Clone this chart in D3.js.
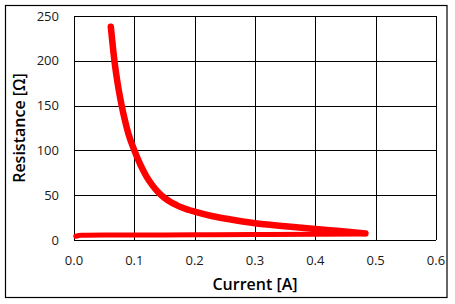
<!DOCTYPE html>
<html>
<head>
<meta charset="utf-8">
<script src="https://cdn.jsdelivr.net/npm/d3@7"></script>
<style>
  html, body { margin: 0; padding: 0; background: #fff; }
  svg { display: block; }
</style>
</head>
<body>
<div id="chart"></div>
<script>
// values
const upperCurrent = [0.061, 0.063, 0.065, 0.067, 0.070, 0.074, 0.079, 0.085, 0.090, 0.1, 0.11, 0.12, 0.13, 0.14, 0.15, 0.16, 0.17, 0.18, 0.2, 0.23, 0.26, 0.3, 0.35, 0.4, 0.44, 0.483]
const upperResistance = [238, 225, 212, 200, 185, 168, 150, 132, 119, 100, 84, 71, 61, 53, 47, 42.5, 39, 36, 31.6, 26.5, 22.8, 18.6, 15.3, 12.3, 10, 7.4]
const lowerCurrent = [0.003, 0.012, 0.05, 0.1, 0.2, 0.3, 0.4, 0.48]
const lowerResistance = [4.2, 5.4, 5.5, 5.6, 5.8, 6.0, 6.3, 6.8]
const xTicks = [0, 0.1, 0.2, 0.3, 0.4, 0.5, 0.6]
const yTicks = [0, 50, 100, 150, 200, 250]

const width = 455
const height = 304
const margin = { top: 16, right: 19, bottom: 64, left: 74 }

const svg = d3.select('#chart').append('svg')
  .attr('width', width)
  .attr('height', height)

// outer chart frame
svg.append('rect')
  .attr('x', 5.5).attr('y', 5.5)
  .attr('width', 441.5).attr('height', 292)
  .attr('fill', 'none')
  .attr('stroke', '#000')
  .attr('stroke-width', 1.2)

const x = d3.scaleLinear().domain([0, 0.6]).range([margin.left, width - margin.right])
const y = d3.scaleLinear().domain([0, 250]).range([height - margin.bottom, margin.top])

const grid = svg.append('g').attr('stroke', '#000').attr('stroke-width', 1)
grid.selectAll('.vx').data(xTicks).join('line')
  .attr('x1', d => Math.round(x(d)) + 0.5).attr('x2', d => Math.round(x(d)) + 0.5)
  .attr('y1', y(250)).attr('y2', y(0))
grid.selectAll('.hy').data(yTicks).join('line')
  .attr('y1', d => Math.round(y(d)) + 0.5).attr('y2', d => Math.round(y(d)) + 0.5)
  .attr('x1', x(0)).attr('x2', x(0.6))

const tickFont = '"Open Sans", sans-serif'

svg.append('g')
  .selectAll('text').data(yTicks).join('text')
  .attr('x', x(0) - 15)
  .attr('y', d => y(d))
  .attr('dy', '0.35em')
  .attr('text-anchor', 'end')
  .style('font', '13px ' + tickFont)
  .attr('fill', '#1a1a1a')
  .text(d => d)

svg.append('g')
  .selectAll('text').data(xTicks).join('text')
  .attr('x', d => x(d))
  .attr('y', y(0) + 25)
  .attr('text-anchor', 'middle')
  .style('font', '13px ' + tickFont)
  .attr('fill', '#1a1a1a')
  .text(d3.format('.1f'))

svg.append('text')
  .attr('x', (x(0) + x(0.6)) / 2)
  .attr('y', 290)
  .attr('text-anchor', 'middle')
  .style('font', '600 16px ' + tickFont)
  .text('Current [A]')

svg.append('text')
  .attr('transform', `translate(25, ${(y(0) + y(250)) / 2}) rotate(-90)`)
  .attr('text-anchor', 'middle')
  .style('font', '600 16px ' + tickFont)
  .text('Resistance [Ω]')

const line = d3.line()
  .x(d => x(d[0]))
  .y(d => y(d[1]))
  .curve(d3.curveMonotoneX)

const series = [
  { pts: d3.zip(lowerCurrent, lowerResistance), w: 5 },
  { pts: d3.zip(upperCurrent, upperResistance), w: 6.5 }
]

svg.append('g')
  .selectAll('path').data(series).join('path')
  .attr('d', d => line(d.pts))
  .attr('fill', 'none')
  .attr('stroke', '#ff0000')
  .attr('stroke-width', d => d.w)
  .attr('stroke-linecap', 'round')
</script>
</body>
</html>
